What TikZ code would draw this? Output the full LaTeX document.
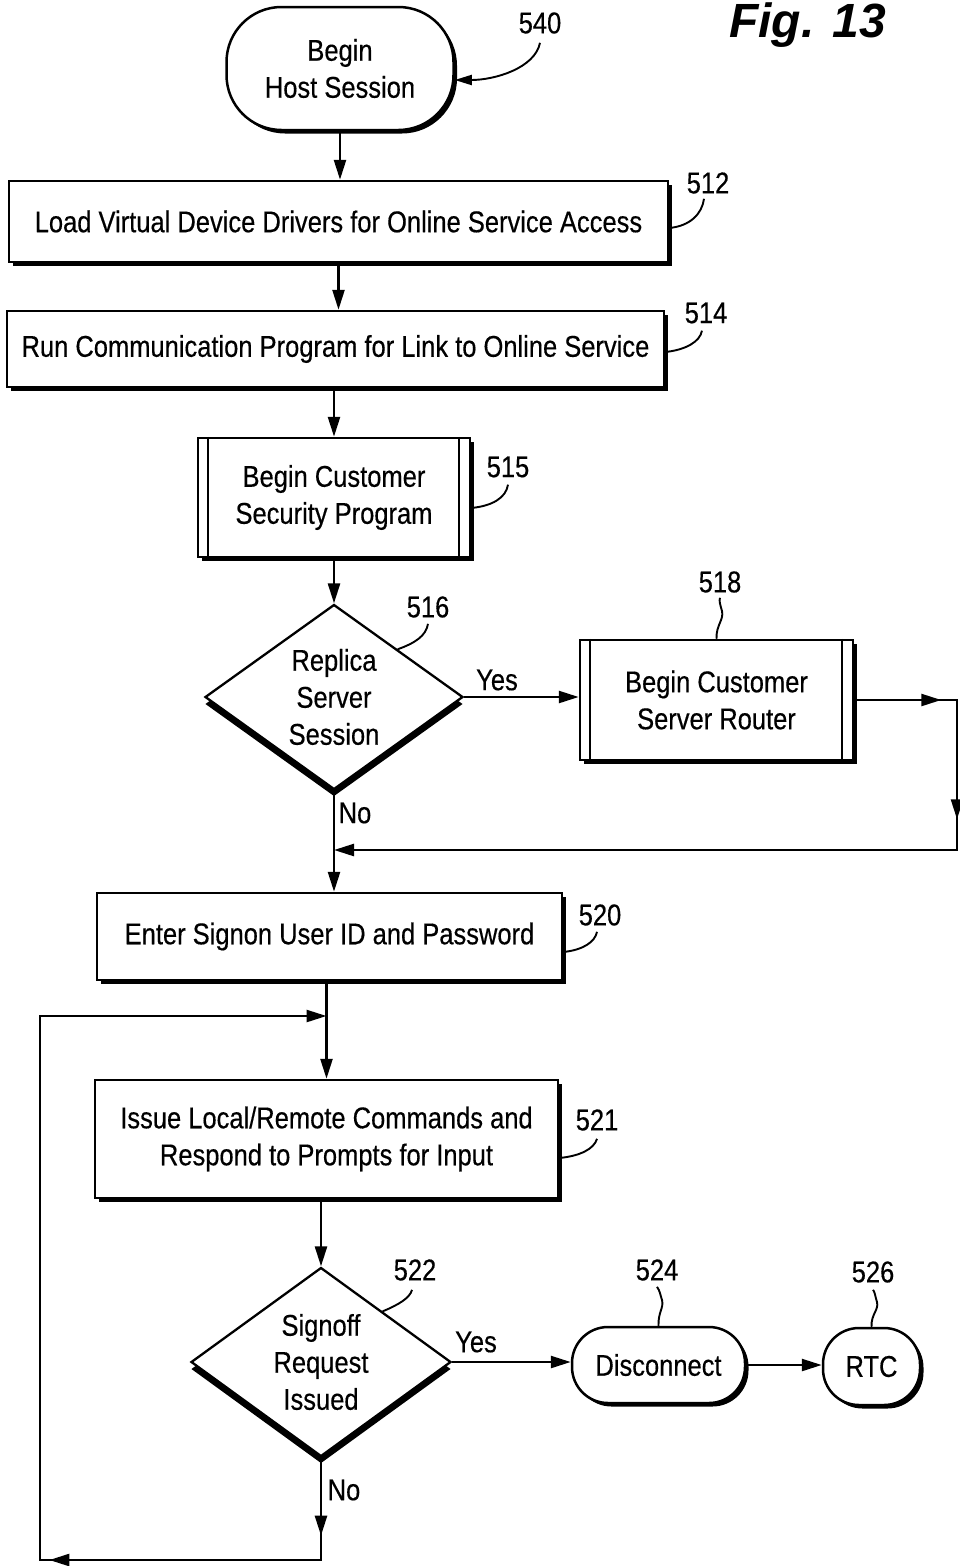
\documentclass[tikz,border=0pt]{standalone}
\usepackage{fontspec}
\setmainfont{Liberation Sans}[FakeStretch=0.85,FakeBold=0.4]
\newfontfamily\figfont{Liberation Sans}
\usetikzlibrary{shapes.geometric,arrows.meta,shadows,decorations.markings,calc}
\tikzset{
  txt/.style={font=\fontsize{30}{37}\selectfont, align=center, inner sep=0pt},
  proc/.style={txt, rectangle, draw, line width=2.5pt, fill=white,
    drop shadow={shadow xshift=3.5pt, shadow yshift=-3.5pt, opacity=1, fill=black}},
  term/.style={proc, rounded corners=#1},
  dec/.style={txt, diamond, aspect=1.4, draw, line width=2.3pt, fill=white,
    drop shadow={shadow xshift=0pt, shadow yshift=-7pt, opacity=1, fill=black}},
  ref/.style={txt, inner sep=1pt},
  conn/.style={line width=2.5pt},
  arr/.style={conn, -{Triangle[length=20pt,width=12pt]}},
  tipat/.style={postaction={decorate, decoration={markings,
    mark=at position #1 with {\arrow{Triangle[length=20pt,width=12pt]}}}}},
  leader/.style={line width=1.9pt},
}
\begin{document}
\begin{tikzpicture}[x=1pt,y=-1pt]
\useasboundingbox (0,0) rectangle (959,1566);
\fill[white] (0,0) rectangle (959,1566);

% title
\node[font=\figfont\fontsize{48}{58}\selectfont\bfseries\itshape, anchor=base west, inner sep=0pt] (fig) at (729,37) {Fig. 13};

% shapes
\node[term=55pt, minimum width=227pt, minimum height=123pt] (n540) at (340,68.5) {Begin\\Host Session};
\node[proc, minimum width=659pt, minimum height=81pt] (n512) at (338.5,221.5) {Load Virtual Device Drivers for Online Service Access};
\node[proc, minimum width=657pt, minimum height=76pt] (n514) at (335.5,349) {Run Communication Program for Link to Online Service};
\node[proc, minimum width=272pt, minimum height=119pt] (n515) at (334,497.5) {Begin Customer\\Security Program};
\draw[line width=2.2pt] ([xshift=11pt]n515.north west) -- ([xshift=11pt]n515.south west);
\draw[line width=2.2pt] ([xshift=-12pt]n515.north east) -- ([xshift=-12pt]n515.south east);
\node[dec, minimum width=258pt, minimum height=185pt] (d516) at (334,697) {Replica\\Server\\Session};
\node[proc, minimum width=273pt, minimum height=120pt] (n518) at (716.5,700) {Begin Customer\\Server Router};
\draw[line width=2.2pt] ([xshift=11pt]n518.north west) -- ([xshift=11pt]n518.south west);
\draw[line width=2.2pt] ([xshift=-12pt]n518.north east) -- ([xshift=-12pt]n518.south east);
\node[proc, minimum width=465pt, minimum height=87pt] (n520) at (329.5,936.5) {Enter Signon User ID and Password};
\node[proc, minimum width=463pt, minimum height=118pt] (n521) at (326.5,1139) {Issue Local/Remote Commands and\\Respond to Prompts for Input};
\node[dec, minimum width=260pt, minimum height=189pt] (d522) at (321,1362) {Signoff\\Request\\Issued};
\node[term=36pt, minimum width=173pt, minimum height=76pt] (n524) at (658.5,1365) {Disconnect};
\node[term=36pt, minimum width=97pt, minimum height=77pt] (n526) at (871.5,1366.5) {RTC};

% reference numerals
\node[ref] (l540) at (540,23) {540};
\node[ref] (l512) at (708,183) {512};
\node[ref] (l514) at (706,313) {514};
\node[ref] (l515) at (508,467) {515};
\node[ref] (l516) at (428,607) {516};
\node[ref] (l518) at (720,582) {518};
\node[ref] (l520) at (600,915) {520};
\node[ref] (l521) at (597,1120) {521};
\node[ref] (l522) at (415,1270) {522};
\node[ref] (l524) at (657,1270) {524};
\node[ref] (l526) at (873,1272) {526};

% branch labels
\node[ref] (yes1) at (497,680) {Yes};
\node[ref] (no1) at (355,813) {No};
\node[ref] (yes2) at (476,1342) {Yes};
\node[ref] (no2) at (344,1490) {No};

% connectors
\draw[arr] (n540.south) -- (n540.south |- n512.north);
\draw[arr] (n512.south) -- (n512.south |- n514.north);
\draw[arr] (n515.north |- n514.south) -- (n515.north);
\draw[arr] (n515.south) -- (d516.north);
\draw[arr] (d516.east) -- (d516.east -| n518.west);
\coordinate (r1) at (957,700);
\coordinate (r2) at (957,850);
\coordinate (j1) at (d516.south |- r2);
\draw[arr, tipat=87pt, tipat=222pt] (n518.east) -- (r1) -- (r2) -- (j1);
\draw[arr] (d516.south) -- (d516.south |- n520.north);
\draw[arr] (n521.north |- n520.south) -- (n521.north);
\draw[arr] (d522.north |- n521.south) -- (d522.north);
\draw[arr] (d522.east) -- (d522.east -| n524.west);
\draw[arr] (n524.east) -- (n524.east -| n526.west);
\coordinate (L1) at (40,1560);
\coordinate (L2) at (40,1016);
\draw[arr, tipat=78pt, tipat=374pt] (d522.south) -- (d522.south |- L1) -- (L1) -- (L2) -- (n521.north |- L2);

% leaders
\draw[leader, -{Triangle[length=17pt,width=10pt]}] ([yshift=-8pt]l540.south) .. controls (535,68) and (495,80) .. ([yshift=-11.5pt]n540.east);
\draw[leader] ([yshift=-6.5pt]n512.east) .. controls (690,226) and (702,214) .. ([xshift=-4pt,yshift=-4pt]l512.south);
\draw[leader] ([yshift=-3pt]n514.east) .. controls (685,350) and (700,342) .. ([xshift=-4pt,yshift=-6pt]l514.south);
\draw[leader] ([yshift=-10.5pt]n515.east) .. controls (492,506) and (506,498) .. ([yshift=-6pt]l515.south);
\draw[leader] ($(d516.north)!0.49!(d516.east)$) .. controls (415,643) and (426,636) .. ([yshift=-5pt]l516.south);
\draw[leader] (n518.north) .. controls (716,625) and (724,620) .. (722,611) .. controls (720,604) and (719,601) .. ([yshift=-4pt]l518.south);
\draw[leader] ([yshift=-15.5pt]n520.east) .. controls (583,950) and (595,942) .. ([xshift=-3pt,yshift=-5pt]l520.south);
\draw[leader] ([yshift=-19pt]n521.east) .. controls (580,1156) and (594,1149) .. ([yshift=-7pt]l521.south);
\draw[leader] ($(d522.north)!0.47!(d522.east)$) .. controls (398,1305) and (410,1298) .. ([xshift=-3pt,yshift=-8pt]l522.south);
\draw[leader] (n524.north) .. controls (658,1312) and (664,1308) .. (662,1300) .. controls (660,1294) and (660,1291) .. ([yshift=-5pt]l524.south);
\draw[leader] (n526.north) .. controls (871,1314) and (879,1310) .. (877,1302) .. controls (875,1296) and (875,1292) .. ([yshift=-6pt]l526.south);
\end{tikzpicture}
\end{document}
